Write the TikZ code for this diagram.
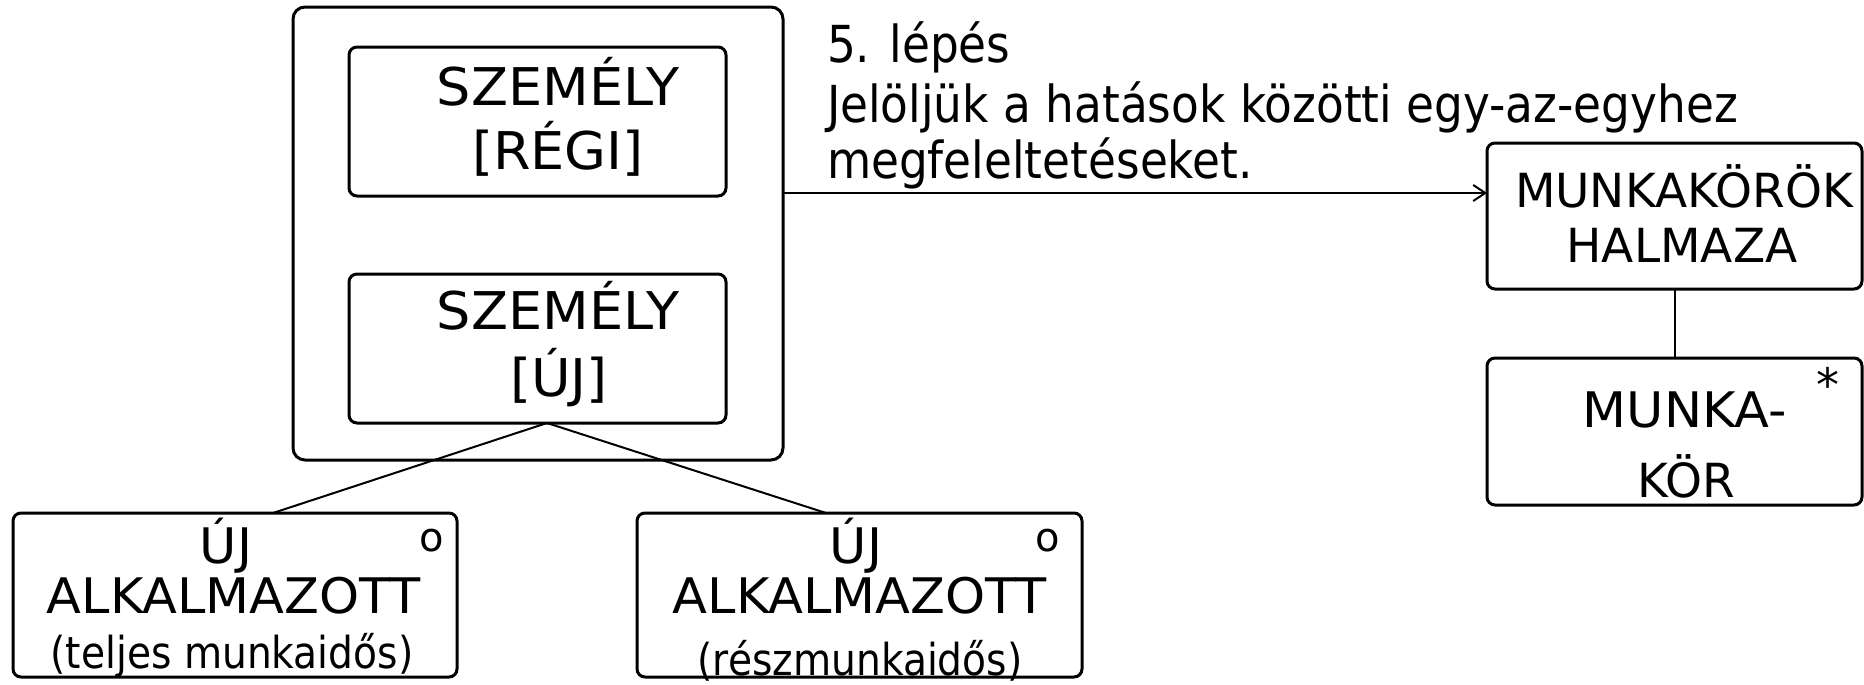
\documentclass[tikz,border=0pt]{standalone}
\usepackage{fontspec}
\setmainfont{DejaVu Sans}
\newfontfamily\narrowfont[FakeStretch=0.89]{DejaVu Sans}
\newfontfamily\capsfont[FakeStretch=1.04]{DejaVu Sans}
\usetikzlibrary{arrows.meta}

% sizes are given in pixels of a 1864 x 685 canvas; 1px = 0.5pt
\newcommand{\fpx}[1]{\fontsize{\fpxval{#1}}{\fpxval{#1}}\selectfont}
\newcommand{\fpxval}[1]{\dimexpr #1pt/2\relax}

\tikzset{
  entity/.style={draw, line width=1.5pt, rectangle, rounded corners=4pt,
    inner sep=0pt, outer sep=0pt},
  conn/.style={line width=1pt},
  lbl/.style={inner sep=0pt, outer sep=0pt, anchor=base},
  capsbig/.style={lbl, font=\capsfont\fpx{52}},
  caps/.style={lbl, font=\fpx{47}},
  capswide/.style={lbl, font=\capsfont\fpx{49}},
  paren/.style={lbl, font=\narrowfont\fpx{44}},
  note/.style={lbl, anchor=base west, font=\narrowfont\fpx{51}},
  supmark/.style={inner sep=0pt, outer sep=0pt, font=\fpx{40}}
}

\begin{document}
\begin{tikzpicture}[x=0.5pt, y=-0.5pt]
  \useasboundingbox (0,0) rectangle (1864,685);

  % supertype with its two subtypes
  \node[entity, rounded corners=6pt, minimum width=245pt, minimum height=226.5pt] (szemely) at (538,233.5) {};
  \node[entity, minimum width=188.5pt, minimum height=74.5pt] (regi) at (537.5,121.5) {};
  \node[entity, minimum width=188.5pt, minimum height=74.5pt] (uj) at (537.5,348.5) {};

  \node[capsbig] (regit1) at (558,105) {SZEMÉLY};
  \node[capsbig] (regit2) at (558,169) {[RÉGI]};
  \node[capsbig] (ujt1) at (558,329) {SZEMÉLY};
  \node[capsbig] (ujt2) at (559,396) {[ÚJ]};

  % new employee categories
  \node[entity, minimum width=222pt, minimum height=82pt] (teljes) at (235,595) {};
  \node[entity, minimum width=222.5pt, minimum height=82pt] (resz) at (859.5,595) {};

  \node[capswide] (teljest1) at (226,563) {ÚJ};
  \node[capswide] (teljest2) at (234,613) {ALKALMAZOTT};
  \node[paren] (teljest3) at (232,668) {(teljes munkaidős)};
  \node[supmark] (teljeso) at (432,541) {o};

  \node[capswide] (reszt1) at (856,563) {ÚJ};
  \node[capswide] (reszt2) at (860,613) {ALKALMAZOTT};
  \node[paren] (reszt3) at (860,675) {(részmunkaidős)};
  \node[supmark] (reszo) at (1048,541) {o};

  % job set and job
  \node[entity, minimum width=187.5pt, minimum height=73pt] (halmaz) at (1674.5,216) {};
  \node[entity, minimum width=187.5pt, minimum height=73.5pt] (munkakor) at (1674.5,431.5) {};

  \node[caps] (halmazt1) at (1684,207) {MUNKAKÖRÖK};
  \node[caps] (halmazt2) at (1682,262) {HALMAZA};
  \node[capswide] (munkat1) at (1685,427) {MUNKA-};
  \node[caps] (munkat2) at (1686,497) {KÖR};
  \node[supmark, font=\fpx{46}] (star) at (1828,384) {*};

  % step description
  \node[note] (hdr1) at (827,62) {5. lépés};
  \node[note] (hdr2) at (827,122) {Jelöljük a hatások közötti egy-az-egyhez};
  \node[note] (hdr3) at (827,178) {megfeleltetéseket.};

  % connectors
  \coordinate (apex) at ([xshift=4.75pt]uj.south);
  \draw[conn] (apex) -- ([xshift=19pt]teljes.north);
  \draw[conn] (apex) -- ([xshift=-16.75pt]resz.north);

  \coordinate (arrstart) at ([yshift=20.25pt]szemely.east);
  \draw[conn, -{Straight Barb[length=6pt,width=8pt]}] (arrstart) -- (arrstart -| halmaz.west);
  \draw[conn] (halmaz.south) -- (munkakor.north);
\end{tikzpicture}
\end{document}
